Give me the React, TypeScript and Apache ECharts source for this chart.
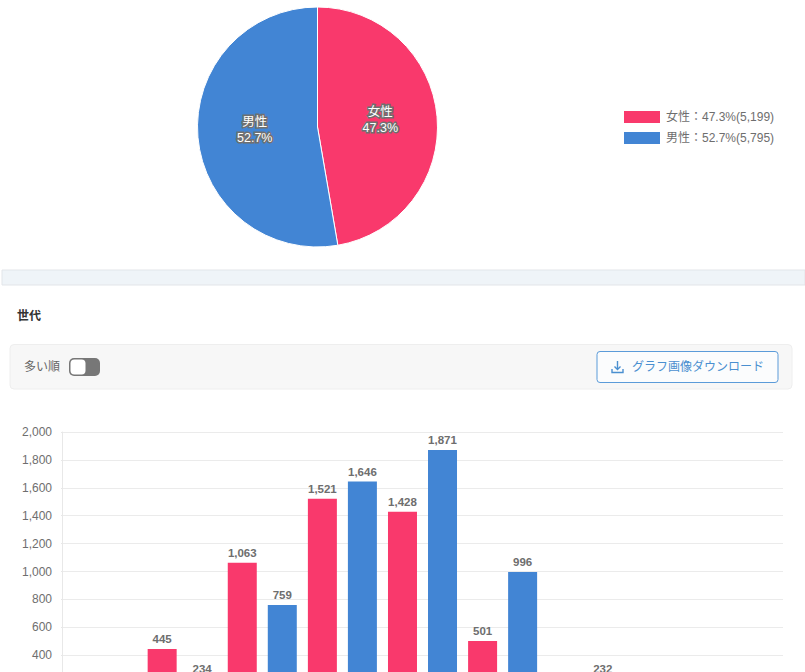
import React, { useEffect, useRef } from "react";
import * as echarts from "echarts";

const genderNames = ["女性", "男性"];
const genderCounts = [5199, 5795];
const genderPercents = ["47.3", "52.7"];
const genderColors = ["#F9396C", "#4285D4"];

const generations = ["10代未満", "10代", "20代", "30代", "40代", "50代", "60代", "70代", "80代以上"];
const femaleValues = [30, 445, 1063, 1521, 1428, 501, 170, 40, 1];
const maleValues = [10, 234, 759, 1646, 1871, 996, 232, 40, 7];

const FONT = '"Liberation Sans", "Noto Sans CJK JP", sans-serif';
const fmt = (n: number) => n.toLocaleString("en-US");

export default function App() {
  const ref = useRef<HTMLDivElement>(null);
  useEffect(() => {
    const chart = echarts.init(ref.current!, null, { renderer: "svg" });
    chart.setOption({
      animation: false,
      textStyle: { fontFamily: FONT },
      legend: {
        orient: "vertical",
        left: 622,
        top: 109,
        padding: 0,
        itemWidth: 38,
        itemHeight: 14,
        itemGap: 5,
        icon: "rect",
        data: genderNames,
        textStyle: { fontFamily: FONT, fontSize: 12, lineHeight: 14, color: "#6e6e6e" },
        formatter: (name: string) => {
          const i = genderNames.indexOf(name);
          return `${name}：${genderPercents[i]}%(${fmt(genderCounts[i])})`;
        },
      },
      grid: { left: 62, top: 432, width: 721, height: 279 },
      xAxis: {
        type: "category",
        data: generations,
        axisTick: { show: false },
        axisLabel: { show: false },
        axisLine: { lineStyle: { color: "#e5e5e5" } },
      },
      yAxis: {
        type: "value",
        min: 0,
        max: 2000,
        interval: 200,
        axisLine: { show: true, lineStyle: { color: "#e8e8e8" } },
        axisTick: { show: true, length: 1, lineStyle: { color: "#e8e8e8" } },
        splitLine: { lineStyle: { color: "#ebebeb" } },
        axisLabel: {
          margin: 10,
          fontFamily: FONT,
          fontSize: 12,
          color: "#6e6e6e",
          formatter: (v: number) => fmt(v),
        },
      },
      series: [
        {
          type: "pie",
          center: [317.5, 127],
          radius: [0, 120],
          startAngle: 90,
          clockwise: true,
          silent: true,
          data: genderNames.map((name, i) => ({
            name,
            value: genderCounts[i],
            itemStyle: { color: genderColors[i], borderColor: "#fff", borderWidth: 1 },
          })),
          labelLine: { show: false },
          label: {
            show: true,
            position: "inner",
            offset: [0, -2],
            fontFamily: FONT,
            fontSize: 12.5,
            lineHeight: 16,
            color: "#fff",
            textBorderColor: "#707070",
            textBorderWidth: 3,
            formatter: (p: any) => `${p.name}\n${genderPercents[p.dataIndex]}%`,
          },
        },
        ...[femaleValues, maleValues].map((values, i) => ({
          type: "bar",
          name: `${genderNames[i]}世代`,
          data: values,
          barWidth: 29,
          barGap: "38%",
          itemStyle: { color: genderColors[i] },
          label: {
            show: true,
            position: "top",
            distance: 4,
            fontFamily: FONT,
            fontSize: 11.5,
            fontWeight: "bold",
            color: "#6e6e6e",
            formatter: (p: any) => fmt(p.value),
          },
        })),
      ],
      graphic: [
        { type: "rect", shape: { x: 2, y: 270, width: 803, height: 15 }, style: { fill: "#EFF4F8", stroke: "#E2E5E9", lineWidth: 1 } },
        { type: "text", x: 17, y: 316, style: { text: "世代", fontFamily: FONT, fontSize: 12, fontWeight: "bold", fill: "#333", textVerticalAlign: "middle" } },
        { type: "rect", shape: { x: 10, y: 344.5, width: 782, height: 44.5, r: 4 }, style: { fill: "#F7F7F7", stroke: "#EEEEEE", lineWidth: 1 } },
        { type: "text", x: 24, y: 367, style: { text: "多い順", fontFamily: FONT, fontSize: 12, fill: "#666", textVerticalAlign: "middle" } },
        { type: "rect", shape: { x: 69, y: 358, width: 31, height: 18, r: 5 }, style: { fill: "#777" } },
        { type: "rect", shape: { x: 70.5, y: 359.5, width: 15, height: 15, r: 4 }, style: { fill: "#fff" } },
        { type: "rect", shape: { x: 597, y: 351.5, width: 181, height: 31, r: 3 }, style: { fill: "#FBFCFD", stroke: "#5B9BD9", lineWidth: 1 } },
        { type: "line", shape: { x1: 617.5, y1: 361, x2: 617.5, y2: 369 }, style: { stroke: "#4A8FD0", lineWidth: 1.4 } },
        { type: "polyline", shape: { points: [[614.5, 366.5], [617.5, 369.5], [620.5, 366.5]] }, style: { fill: "none", stroke: "#4A8FD0", lineWidth: 1.4 } },
        { type: "polyline", shape: { points: [[612, 369], [612, 372.5], [623, 372.5], [623, 369]] }, style: { fill: "none", stroke: "#4A8FD0", lineWidth: 1.4 } },
        { type: "text", x: 632, y: 367, style: { text: "グラフ画像ダウンロード", fontFamily: FONT, fontSize: 12, fill: "#4A8FD0", textVerticalAlign: "middle" } },
      ],
    });
    return () => chart.dispose();
  }, []);
  return (
    <div style={{ position: "fixed", left: 0, top: 0, width: 805, height: 672, overflow: "hidden", background: "#fff" }}>
      <div ref={ref} style={{ width: 805, height: 760 }} />
    </div>
  );
}
